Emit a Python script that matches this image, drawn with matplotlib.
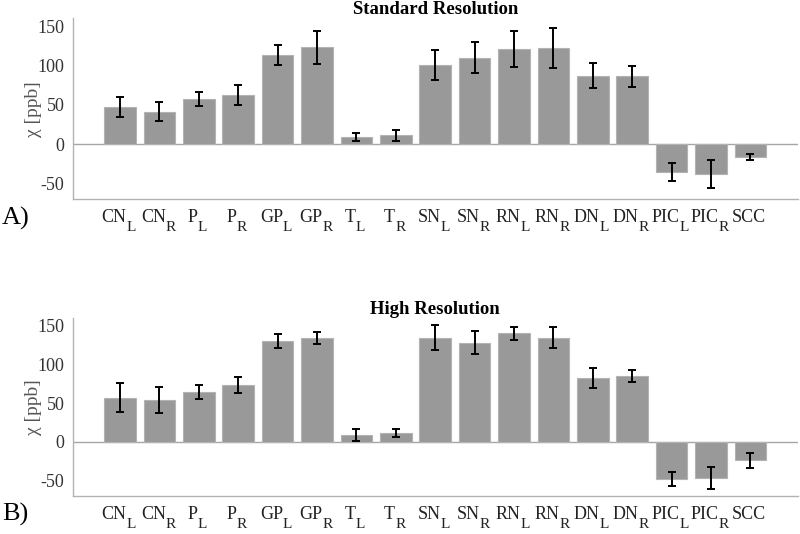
import matplotlib
matplotlib.use('Agg')
import matplotlib.pyplot as plt
import numpy as np

plt.rcParams['font.family'] = ['Liberation Serif', 'DejaVu Serif']
plt.rcParams['axes.unicode_minus'] = False

# region labels: base name + subscript
names = ['CN', 'CN', 'P', 'P', 'GP', 'GP', 'T', 'T', 'SN', 'SN',
         'RN', 'RN', 'DN', 'DN', 'PIC', 'PIC', 'SCC']
subs = ['L', 'R', 'L', 'R', 'L', 'R', 'L', 'R', 'L', 'R',
        'L', 'R', 'L', 'R', 'L', 'R', '']

# standard resolution
std_mean = [47, 41, 57, 62, 113, 123, 9, 11, 100, 110,
            121, 122, 87, 86, -35, -38, -16]
std_err = [13, 12, 9, 12.5, 12.5, 21, 4.6, 7, 19, 20,
           23, 25.5, 15.5, 13, 11.5, 18, 3.6]

# high resolution
high_mean = [57, 54, 64, 73, 130, 134, 9, 11, 134, 128,
             140, 134, 82, 85, -48, -47, -24]
high_err = [19, 17, 9, 10, 9, 8, 7.6, 5, 16, 15,
            8.5, 13.6, 13, 8, 8.7, 14, 9.5]


def draw_ticklabels(ax, x):
    # category labels with a large, low subscript (Excel style)
    trans = ax.get_xaxis_transform()
    for xi, n, s in zip(x, names, subs):
        dx = -4.5 if s else -1
        main = ax.annotate(n, xy=(xi, 0), xycoords=trans,
                           xytext=(dx, -16.6), textcoords='offset points',
                           ha='center', va='baseline', fontsize=13,
                           color='#222222')
        if s:
            ax.annotate(s, xy=(1, 0), xycoords=(main, trans),
                        xytext=(0, -23.2), textcoords='offset points',
                        ha='left', va='baseline', fontsize=11,
                        color='#222222')


def draw_panel(ax, mean, err, title, tag):
    x = np.arange(len(mean))
    ax.bar(x, mean, width=0.8, color='#999999', edgecolor='#b3b3b3',
           linewidth=0.8, zorder=2)
    ax.errorbar(x, mean, yerr=err, fmt='none', ecolor='black',
                elinewidth=1.4, capsize=2.6, capthick=1.4, zorder=3)
    ax.axhline(0, color='#a6a6a6', linewidth=1.0, zorder=1)
    ax.set_xlim(-1.2, 17.2)
    ax.set_ylim(-70, 160)
    ax.set_yticks([-50, 0, 50, 100, 150])
    ax.set_xticks([])
    draw_ticklabels(ax, x)
    ax.tick_params(axis='y', length=0, labelsize=13, colors='#333333',
                   pad=6)
    for s in ['top', 'right']:
        ax.spines[s].set_visible(False)
    for s in ['left', 'bottom']:
        ax.spines[s].set_color('#b3b3b3')
        ax.spines[s].set_linewidth(1.0)
    ax.set_ylabel('\u03c7 [ppb]', fontsize=14, color='#555555', labelpad=-3)
    ax.set_title(title, fontsize=13.5, fontweight='bold', pad=2)
    ax.text(-0.098, -0.04, tag, transform=ax.transAxes, fontsize=19,
            ha='left', va='top')


fig = plt.figure(figsize=(8, 5.34), dpi=100)
ax1 = fig.add_axes([0.091, 0.627, 0.906, 0.339])
ax2 = fig.add_axes([0.091, 0.071, 0.906, 0.334])

draw_panel(ax1, std_mean, std_err, 'Standard Resolution', 'A)')
draw_panel(ax2, high_mean, high_err, 'High Resolution', 'B)')

fig.savefig('out.png', dpi=100)
